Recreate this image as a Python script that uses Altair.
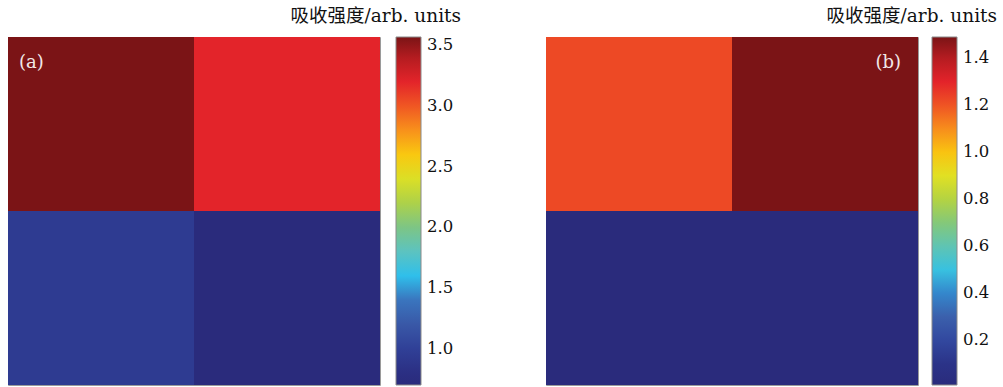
import altair as alt
import pandas as pd

# Two 2x2 absorption-intensity maps, each with its own jet-style colour bar
ROWS = ["top", "bottom"]
COLS = ["left", "right"]

A_TOP = [3.57, 3.20]
A_BOTTOM = [0.95, 0.70]
B_TOP = [1.22, 1.49]
B_BOTTOM = [0.01, 0.01]

A_TICKS = [1.0, 1.5, 2.0, 2.5, 3.0, 3.5]
B_TICKS = [0.2, 0.4, 0.6, 0.8, 1.0, 1.2, 1.4]

COLORBAR_TITLE = "吸收强度/arb. units"

# jet-like palette, low -> high
JET = [
    "#2a2b7c", "#2b3388", "#32479e", "#3b5ca9", "#3a78c0", "#2fbfec",
    "#5cc3c6", "#79c291", "#a0cb55", "#c8d92e", "#f1e41c", "#fbb515",
    "#f58220", "#ee4c25", "#e2202a", "#b71c21", "#7b1416",
]

SERIF = "'DejaVu Serif', 'Noto Sans CJK SC', serif"
W, H = 372, 348


def grid(top, bottom):
    records = []
    for r, vals in zip(ROWS, [top, bottom]):
        for c, v in zip(COLS, vals):
            records.append({"row": r, "col": c, "value": v})
    return pd.DataFrame(records)


def panel(top, bottom, ticks, tag, tag_x, tag_align, legend_x):
    df = grid(top, bottom)
    lo, hi = float(df["value"].min()), float(df["value"].max())
    heat = alt.Chart(df).mark_rect().encode(
        x=alt.X("col:N", sort=COLS, axis=None,
                scale=alt.Scale(paddingInner=0, paddingOuter=0)),
        y=alt.Y("row:N", sort=ROWS, axis=None,
                scale=alt.Scale(paddingInner=0, paddingOuter=0)),
        color=alt.Color(
            "value:Q",
            scale=alt.Scale(domain=[lo, hi], range=JET, nice=False, zero=False),
            legend=alt.Legend(
                orient="none", legendX=legend_x, legendY=0,
                direction="vertical", title=None,
                gradientLength=H, gradientThickness=25,
                gradientStrokeColor="#8a8a8a", gradientStrokeWidth=1,
                values=ticks, format=".1f",
                labelFont=SERIF, labelFontSize=16.5, labelColor="#111",
                labelOffset=6, labelOverlap=False,
            ),
        ),
    )
    info = pd.DataFrame({"tag": [tag], "title": [COLORBAR_TITLE]})
    tag_text = alt.Chart(info).mark_text(
        font=SERIF, fontSize=18, color="#f2e8e8", align=tag_align, baseline="middle"
    ).encode(text="tag:N", x=alt.value(tag_x), y=alt.value(26))
    title_text = alt.Chart(info).mark_text(
        font=SERIF, fontSize=18.5, color="#111", align="right", baseline="middle"
    ).encode(text="title:N", x=alt.value(legend_x + 65), y=alt.value(-21))
    return alt.layer(heat, tag_text, title_text).properties(width=W, height=H)


left = panel(A_TOP, A_BOTTOM, A_TICKS, "(a)", 11, "left", 388)
right = panel(B_TOP, B_BOTTOM, B_TICKS, "(b)", 355, "right", 386)

chart = (
    alt.hconcat(left, right, spacing=166, bounds="flush")
    .resolve_scale(color="independent")
    .configure_view(stroke="#9a9a9a", strokeWidth=1)
    .properties(padding={"left": 7, "top": 6, "right": 5, "bottom": 2},
                background="white")
)

chart.save("out.html", embed_options={"renderer": "svg", "actions": False})
